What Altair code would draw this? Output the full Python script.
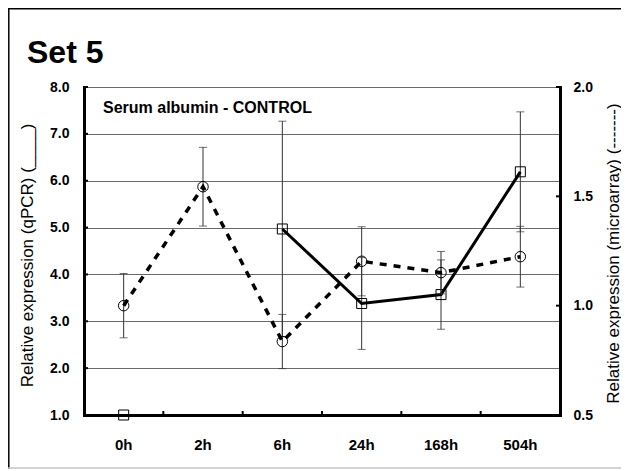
import altair as alt
import pandas as pd

# ---- data ----
times = ["0h", "2h", "6h", "24h", "168h", "504h"]
qpcr_mean = [1.0, None, 4.97, 3.38, 3.57, 6.19]
qpcr_err = [None, None, 2.30, 0.98, 0.74, 1.28]
micro_mean = [1.000, 1.544, 0.836, 1.203, 1.151, 1.224]
micro_err = [0.147, 0.180, 0.124, 0.158, 0.097, 0.139]
left_ticks = [1, 2, 3, 4, 5, 6, 7, 8]
right_ticks = [0.5, 1.0, 1.5, 2.0]
title_text = "Set 5"
panel_label = "Serum albumin - CONTROL"
left_title = "Relative expression (qPCR)   (____)"
right_title = "Relative expression (microarray)   (-------)"

FONT = "Liberation Sans"
W, H = 476, 328
PAD = {"left": 76, "top": 79, "right": 61, "bottom": 54}
TICK = 4
ERR_COLOR = "#333333"

qdf = pd.DataFrame({"time": times, "value": qpcr_mean, "err": qpcr_err, "idx": list(range(len(times)))})
qdf["lo"] = qdf["value"] - qdf["err"]
qdf["hi"] = qdf["value"] + qdf["err"]

mdf = pd.DataFrame({"time": times, "value": micro_mean, "err": micro_err})
mdf["lo"] = mdf["value"] - mdf["err"]
mdf["hi"] = mdf["value"] + mdf["err"]

xscale = alt.Scale(type="band", domain=times, paddingInner=0, paddingOuter=0)
xaxis = alt.Axis(title=None, labelAngle=0, labelFontSize=15, labelFontWeight="bold",
                 labelPadding=22, ticks=False, domainWidth=3, domainColor="black",
                 domainCap="square", grid=False, labelColor="black", labelFont=FONT)
X = alt.X("time:N", scale=xscale, axis=xaxis, sort=times)

lscale = alt.Scale(domain=[1, 8], nice=False, zero=False)
laxis = alt.Axis(values=left_ticks, format=".1f", grid=True, gridColor="#6a6a6a", gridWidth=1,
                 ticks=False, labelPadding=15, labelFontSize=14, labelFontWeight="bold",
                 labelColor="black", labelFont=FONT,
                 domainWidth=3, domainColor="black", domainCap="square",
                 title=left_title, titleX=-52, titleY=168, titleAngle=270,
                 titleFontSize=17, titleFontWeight="normal", titleAlign="center",
                 titleBaseline="alphabetic", titleColor="black", titleFont=FONT)
rscale = alt.Scale(domain=[0.5, 2.0], nice=False, zero=False)
raxis = alt.Axis(orient="right", values=right_ticks, format=".1f", grid=False,
                 ticks=False, labelPadding=13, labelFontSize=14, labelFontWeight="bold",
                 labelColor="black", labelFont=FONT,
                 domainWidth=3, domainColor="black", domainCap="square",
                 title=right_title, titleX=58, titleY=166, titleAngle=270,
                 titleFontSize=17, titleFontWeight="normal", titleAlign="center",
                 titleBaseline="alphabetic", titleColor="black", titleFont=FONT)

def YL(field):
    return alt.Y(field, type="quantitative", scale=lscale, axis=laxis)

def YR(field):
    return alt.Y(field, type="quantitative", scale=rscale, axis=raxis)

one = pd.DataFrame({"a": [0]})

# outer frame of the figure (decoration)
frame_left = alt.Chart(one).mark_rule(color="black", strokeWidth=1.5).encode(
    x=alt.value(-PAD["left"] + 0.8), y=alt.value(-PAD["top"]), y2=alt.value(H + PAD["bottom"]))
frame_top = alt.Chart(one).mark_rule(color="black", strokeWidth=1.5).encode(
    y=alt.value(-PAD["top"] + 0.8), x=alt.value(-PAD["left"]), x2=alt.value(W + PAD["right"]))
frame_bottom = alt.Chart(one).mark_rule(color="#c4c4c4", strokeWidth=1.5).encode(
    y=alt.value(H + PAD["bottom"] - 1), x=alt.value(-PAD["left"]), x2=alt.value(W + PAD["right"]))

# figure title
title = alt.Chart(pd.DataFrame({"t": [title_text]})).mark_text(
    align="left", baseline="alphabetic", fontSize=32, fontWeight="bold", font=FONT, color="black").encode(
    x=alt.value(-57), y=alt.value(-24), text="t:N")

# inward tick marks (positions from the scales)
lt = alt.Chart(pd.DataFrame({"v": left_ticks})).mark_rule(color="black", strokeWidth=2).encode(
    y=YL("v"), x=alt.value(0), x2=alt.value(TICK))
xt = alt.Chart(pd.DataFrame({"time": times[1:]})).mark_rule(color="black", strokeWidth=2).encode(
    x=alt.X("time:N", scale=xscale, axis=xaxis, sort=times, bandPosition=0),
    y=alt.value(H - TICK), y2=alt.value(H))

qbase = alt.Chart(qdf)
q_err = qbase.transform_filter("isValid(datum.err)").mark_rule(color=ERR_COLOR, strokeWidth=1).encode(
    x=X, y=YL("lo"), y2="hi")
q_cap_lo = qbase.transform_filter("isValid(datum.err)").mark_tick(color=ERR_COLOR, size=8, thickness=1).encode(
    x=X, y=YL("lo"))
q_cap_hi = qbase.transform_filter("isValid(datum.err)").mark_tick(color=ERR_COLOR, size=8, thickness=1).encode(
    x=X, y=YL("hi"))
q_line = qbase.transform_filter("datum.idx >= 2").mark_line(color="black", strokeWidth=3).encode(
    x=X, y=YL("value"))
q_pts = qbase.transform_filter("isValid(datum.value)").mark_point(
    shape="square", size=100, filled=False, color="black", strokeWidth=1, opacity=1).encode(
    x=X, y=YL("value"))
label = alt.Chart(pd.DataFrame({"t": [panel_label]})).mark_text(
    align="left", baseline="alphabetic", fontSize=16, fontWeight="bold", font=FONT, color="black").encode(
    x=alt.value(19), y=alt.value(26), text="t:N")

left = alt.layer(frame_left, frame_top, frame_bottom, title, lt, xt, q_err, q_cap_lo, q_cap_hi,
                 q_line, q_pts, label)

rt = alt.Chart(pd.DataFrame({"v": right_ticks})).mark_rule(color="black", strokeWidth=2).encode(
    y=YR("v"), x=alt.value(W - TICK), x2=alt.value(W))

mbase = alt.Chart(mdf)
m_err = mbase.mark_rule(color=ERR_COLOR, strokeWidth=1).encode(x=X, y=YR("lo"), y2="hi")
m_cap_lo = mbase.mark_tick(color=ERR_COLOR, size=8, thickness=1).encode(x=X, y=YR("lo"))
m_cap_hi = mbase.mark_tick(color=ERR_COLOR, size=8, thickness=1).encode(x=X, y=YR("hi"))
m_line = mbase.mark_line(color="black", strokeWidth=3.5, strokeDash=[7, 7]).encode(x=X, y=YR("value"))
m_pts = mbase.mark_point(shape="circle", size=110, filled=False, color="black", strokeWidth=1, opacity=1).encode(
    x=X, y=YR("value"))

right = alt.layer(rt, m_err, m_cap_lo, m_cap_hi, m_line, m_pts)

chart = alt.layer(left, right).resolve_scale(y="independent").properties(
    width=W, height=H,
    autosize=alt.AutoSizeParams(type="none"),
    padding=PAD,
).configure_view(stroke="black", strokeWidth=1).configure(background="white")

chart.save("out.html", embed_options={"renderer": "svg", "actions": False})
